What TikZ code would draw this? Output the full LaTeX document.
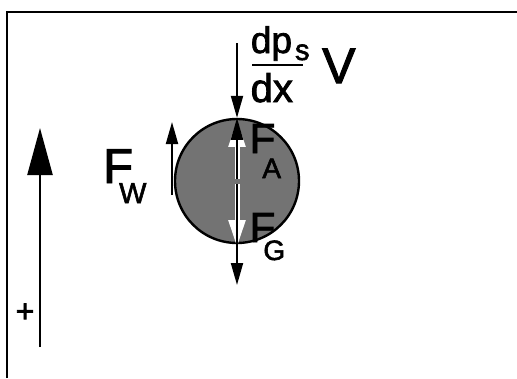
\documentclass[tikz,border=0pt]{standalone}
\usepackage{fontspec}
\setmainfont{Liberation Sans}[FakeBold=2]
\usetikzlibrary{arrows.meta}
\newcommand{\fsz}[1]{\fontsize{#1}{#1}\selectfont}

\begin{document}
\begin{tikzpicture}[x=1pt,y=-1pt,
  ball/.style={circle,draw=black,line width=2.4pt,fill=black!55,minimum size=124pt,inner sep=0pt},
  lbl/.style={inner sep=0pt,anchor=base west},
  force/.style={-{Triangle[length=22pt,width=12pt]},line width=2pt},
  halo/.style={-{Triangle[length=27pt,width=16pt]},line width=5pt,draw=white},
  axis/.style={-{Triangle[length=47pt,width=25pt]},line width=2.4pt},
  frame/.style={line width=2pt}
]
\useasboundingbox (0,0) rectangle (517,378);
\draw[frame] (7,378) |- (517,12);
% particle with its forces
\coordinate (c) at (237,181);
\node[ball] (ball) at (c) {};
\coordinate (dpt) at (237,43);
\coordinate (gend) at (237,285);
\coordinate (wbot) at (172,195);
\coordinate (wtop) at (172,122);
\coordinate (pbot) at (40,347);
\coordinate (ptop) at (40,128);
\draw[halo] ([yshift=2pt]c) -- ([yshift=-2pt]ball.north);
\draw[halo] ([yshift=-3pt]c) -- ([yshift=-3pt]ball.south);
\draw[force] ([yshift=2pt]c) -- (ball.north);
\draw[force] ([yshift=-3pt]c) -- (gend);
\draw[force] (dpt) -- (ball.north);
\draw[force] (wbot) -- (wtop);
\draw[axis] (pbot) -- (ptop);
% labels
\node[lbl] (fa) at (249.5,153) {\fsz{42}F\kern-13pt\raisebox{-25pt}{\fsz{28}A}};
\node[lbl] (fg) at (249.5,242) {\fsz{42}F\kern-12pt\raisebox{-18pt}{\fsz{28}G}};
\node[lbl] (fw) at (103,183) {\fsz{49}F\kern-14pt\raisebox{-20pt}{\fsz{29}W}};
\node[lbl] (num) at (250.7,53) {\fsz{37}dp\kern3pt\raisebox{-7pt}{\fsz{29}s}};
\node[lbl] (den) at (250.5,102) {\fsz{40}dx};
\draw[line width=2pt] (252,65) -- (303,65);
\node[lbl] (vol) at (322,83) {\fsz{50}V};
\node[lbl] (plus) at (15.5,322) {\fsz{32}+};
\end{tikzpicture}
\end{document}
